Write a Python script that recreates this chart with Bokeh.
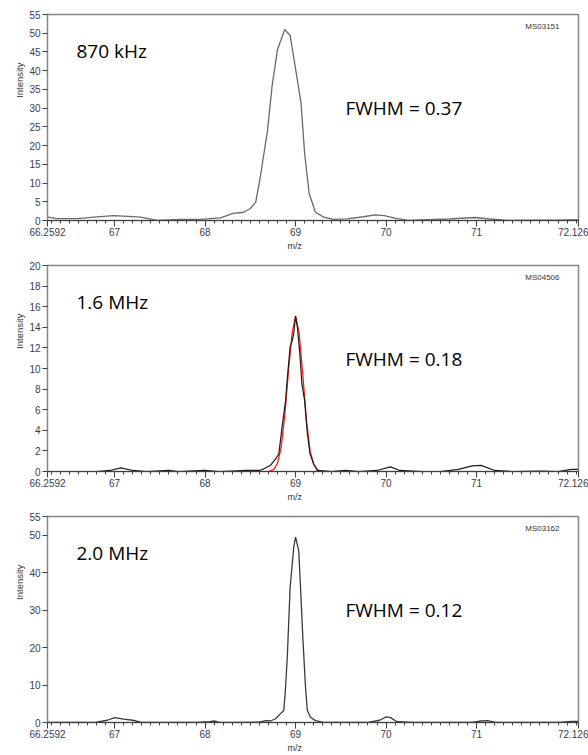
import numpy as np
from bokeh.plotting import figure
from bokeh.layouts import column
from bokeh.models import FixedTicker, Label, Range1d, Title
from bokeh.embed import file_html
from bokeh.resources import INLINE

# ---------------- data ----------------
X_MIN, X_MAX = 66.2592, 72.126
x_major = [66.2592, 67, 68, 69, 70, 71, 72.126]
x_major_labels = ["66.2592", "67", "68", "69", "70", "71", "72.126"]

# 870 kHz spectrum
mz1 = [66.26, 66.37, 66.59, 66.77, 66.99, 67.15, 67.29, 67.47, 67.73, 67.95,
       68.17, 68.31, 68.43, 68.50, 68.56, 68.61, 68.69, 68.74, 68.80, 68.88,
       68.94, 68.99, 69.06, 69.10, 69.15, 69.22, 69.31, 69.42, 69.57, 69.75,
       69.88, 69.98, 70.12, 70.25, 70.45, 70.70, 70.98, 71.15, 71.35, 71.60,
       71.90, 72.126]
int1 = [0.9, 0.5, 0.5, 0.9, 1.3, 1.1, 0.9, 0.0, 0.3, 0.3,
        0.7, 1.9, 2.2, 3.2, 4.9, 11.6, 24.0, 35.8, 45.6, 51.0,
        49.4, 42.0, 31.4, 18.0, 7.2, 2.2, 0.9, 0.3, 0.45, 1.0,
        1.5, 1.3, 0.5, 0.0, 0.2, 0.4, 0.8, 0.4, 0.0, 0.1,
        0.1, 0.2]

# 1.6 MHz spectrum
mz2 = [66.26, 66.50, 66.80, 66.95, 67.07, 67.20, 67.35, 67.60, 67.70, 68.00,
       68.15, 68.30, 68.45, 68.60, 68.65, 68.72, 68.78, 68.815, 68.85, 68.89,
       68.91, 68.94, 68.96, 68.98, 69.00, 69.02, 69.05, 69.07, 69.10, 69.13,
       69.16, 69.20, 69.24, 69.40, 69.55, 69.70, 69.90, 70.05, 70.15, 70.40,
       70.60, 70.80, 70.95, 71.05, 71.20, 71.40, 71.70, 71.90, 72.05, 72.126]
int2 = [0.0, 0.0, 0.0, 0.1, 0.35, 0.1, 0.0, 0.1, 0.0, 0.1,
        0.0, 0.05, 0.1, 0.1, 0.26, 0.58, 1.23, 1.7, 4.3, 6.9,
        9.2, 12.1, 12.6, 13.4, 15.1, 14.0, 11.1, 8.5, 6.9, 3.7,
        1.7, 0.75, 0.1, 0.0, 0.1, 0.0, 0.1, 0.45, 0.1, 0.0,
        0.0, 0.2, 0.55, 0.6, 0.1, 0.0, 0.05, 0.0, 0.2, 0.2]

# 1.6 MHz gaussian fit (red)
mz2_fit = [68.70, 68.76, 68.80, 68.84, 68.88, 68.92, 68.96, 69.00, 69.04, 69.08,
           69.12, 69.16, 69.20, 69.24, 69.28]
int2_fit = [0.0, 0.2, 0.8, 2.3, 5.4, 9.6, 13.3, 15.1, 13.4, 9.4,
            5.0, 2.0, 0.7, 0.2, 0.0]

# 2.0 MHz spectrum
mz3 = [66.26, 66.50, 66.80, 66.92, 67.00, 67.10, 67.20, 67.30, 67.60, 67.90,
       68.05, 68.10, 68.15, 68.40, 68.60, 68.67, 68.72, 68.78, 68.83, 68.87,
       68.89, 68.91, 68.94, 68.98, 69.00, 69.035, 69.055, 69.08, 69.11, 69.13,
       69.165, 69.22, 69.30, 69.50, 69.80, 69.93, 70.00, 70.05, 70.12, 70.30,
       70.60, 70.95, 71.05, 71.12, 71.20, 71.50, 71.90, 72.05, 72.126]
int3 = [0.0, 0.0, 0.1, 0.6, 1.3, 0.9, 0.6, 0.0, 0.0, 0.0,
        0.2, 0.4, 0.1, 0.0, 0.1, 0.5, 0.4, 1.0, 2.3, 3.2,
        9.4, 18.3, 36.1, 46.8, 49.5, 45.9, 36.1, 22.8, 9.4, 3.2,
        1.4, 0.5, 0.1, 0.0, 0.0, 0.6, 1.5, 1.3, 0.2, 0.0,
        0.0, 0.0, 0.4, 0.5, 0.1, 0.0, 0.0, 0.3, 0.3]

freq_labels = ["870 kHz", "1.6 MHz", "2.0 MHz"]
fwhm_labels = ["FWHM = 0.37", "FWHM = 0.18", "FWHM = 0.12"]
scan_ids = ["MS03151", "MS04506", "MS03162"]
y_max = [55, 20, 55]
y_ticks = [[0, 5, 10, 15, 20, 25, 30, 35, 40, 45, 50, 55],
           [0, 2, 4, 6, 8, 10, 12, 14, 16, 18, 20],
           [0, 10, 20, 30, 40, 50, 55]]

FRAME_H = 206
FRAME_W = 531
TICK_FONT = "Liberation Sans"
TICK_COLOR = "#3d3a4a"


def make_panel(i, height, border_top, border_bottom):
    ymax = y_max[i]
    p = figure(width=588, height=height, output_backend="svg", toolbar_location=None,
               x_range=Range1d(X_MIN, X_MAX), y_range=Range1d(0, ymax),
               min_border_left=47, min_border_right=10, min_border_top=border_top,
               min_border_bottom=border_bottom)
    p.title.visible = False
    p.xgrid.visible = False
    p.ygrid.visible = False
    p.background_fill_color = "white"
    p.outline_line_color = "#858585"
    p.outline_line_width = 1.5

    minor = np.round(np.arange(66.3, 72.11, 0.1), 1).tolist()
    xa = p.xaxis[0]
    xa.ticker = FixedTicker(ticks=x_major, minor_ticks=minor)
    xa.major_label_overrides = {t: s for t, s in zip(x_major, x_major_labels)}
    xa.axis_line_color = "#404040"
    xa.major_tick_line_color = "#404040"
    xa.minor_tick_line_color = "#404040"
    xa.major_tick_out = 6
    xa.major_tick_in = 0
    xa.minor_tick_out = 3
    xa.minor_tick_in = 0
    xa.major_label_standoff = 1
    xa.major_label_text_font = TICK_FONT
    xa.major_label_text_font_size = "10px"
    xa.major_label_text_color = TICK_COLOR

    ya = p.yaxis[0]
    ya.ticker = FixedTicker(ticks=y_ticks[i], minor_ticks=[])
    ya.axis_line_color = "#858585"
    ya.major_tick_line_color = "#404040"
    ya.major_tick_out = 5
    ya.major_tick_in = 0
    ya.major_label_standoff = 2
    ya.major_label_text_font = TICK_FONT
    ya.major_label_text_font_size = "10px"
    ya.major_label_text_color = TICK_COLOR

    # axis titles, offset like the reference
    p.add_layout(Title(text="m/z", align="left", offset=240, standoff=0,
                       text_font=TICK_FONT, text_font_size="9px",
                       text_font_style="normal", text_color="#333333"), "below")
    p.add_layout(Title(text="Intensity", align="right", offset=48, standoff=4,
                       text_font=TICK_FONT, text_font_size="9.5px",
                       text_font_style="normal", text_color="#333333"), "left")

    px_per_unit = FRAME_H / ymax
    ux = (X_MAX - X_MIN) / FRAME_W

    # annotations
    p.add_layout(Label(x=X_MIN + 29 * ux, y=(FRAME_H - 36) / px_per_unit,
                       text=freq_labels[i], text_font="Open Sans",
                       text_font_size="19px", text_color="black",
                       text_baseline="middle"))
    p.add_layout(Label(x=X_MIN + 298 * ux, y=(FRAME_H - 93) / px_per_unit,
                       text=fwhm_labels[i], text_font="Open Sans",
                       text_font_size="19px", text_color="black",
                       text_baseline="middle"))
    p.add_layout(Label(x=X_MIN + 512 * ux, y=(FRAME_H - 12) / px_per_unit,
                       text=scan_ids[i], text_font=TICK_FONT,
                       text_font_size="8px", text_color="#333333",
                       text_align="right", text_baseline="middle"))
    return p


p1 = make_panel(0, 257, 14, 37)
p1.line(mz1, int1, line_color="#6a6a6a", line_width=1.3)

p2 = make_panel(1, 251, 8, 37)
p2.line(mz2_fit, int2_fit, line_color="#ff1a1a", line_width=1.3)
p2.line(mz2, int2, line_color="#1c1c1c", line_width=1.2)

p3 = make_panel(2, 246, 8, 32)
p3.line(mz3, int3, line_color="#3a3a3a", line_width=1.3)

layout = column(p1, p2, p3, spacing=0)

open("out.html", "w").write(file_html(layout, INLINE))
